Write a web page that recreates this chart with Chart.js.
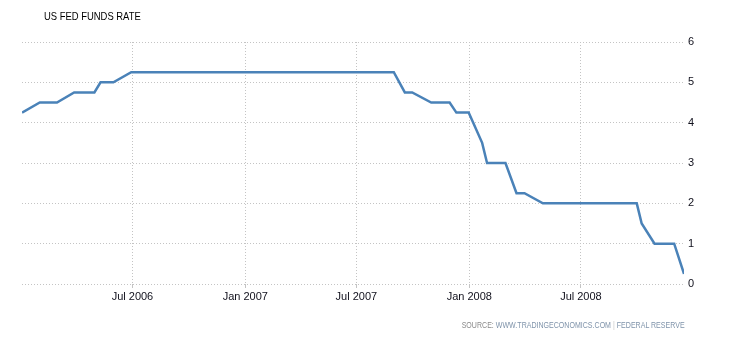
<!DOCTYPE html>
<html>
<head>
<meta charset="utf-8">
<script src="https://cdn.jsdelivr.net/npm/chart.js@4"></script>
<style>
  body { margin: 0; background: #fff; }
  #wrap { position: relative; width: 730px; height: 340px; }
  #title { position: absolute; left: 44px; top: 10px; font: 11.5px "Liberation Sans", Arial, sans-serif; color: #000; transform: scaleX(0.82); transform-origin: left top; white-space: nowrap; }
  #source { position: absolute; right: 45px; top: 320px; font: 8.5px "Liberation Sans", Arial, sans-serif; color: #8a8a8a; transform: scaleX(0.83); transform-origin: right top; white-space: nowrap; }
  #source .u { color: #7f93aa; }
  #source .s { color: #c8c8c8; }
</style>
</head>
<body>
<div id="wrap">
  <canvas id="rateChart" width="730" height="340"></canvas>
  <div id="title">US FED FUNDS RATE</div>
  <div id="source">SOURCE: <span class="u">WWW.TRADINGECONOMICS.COM</span> <span class="s">|</span> <span class="u">FEDERAL RESERVE</span></div>
</div>
<script>
// observation dates (month ends + fomc decisions) and rate in %
const dates = [
  "2006-01-02", "2006-01-31", "2006-02-28", "2006-03-28", "2006-04-30",
  "2006-05-10", "2006-05-31", "2006-06-29", "2006-07-31", "2006-08-31",
  "2006-09-30", "2006-10-31", "2006-11-30", "2006-12-31", "2007-01-31",
  "2007-02-28", "2007-03-31", "2007-04-30", "2007-05-31", "2007-06-30",
  "2007-07-31", "2007-08-31", "2007-09-18", "2007-09-30", "2007-10-31",
  "2007-11-30", "2007-12-11", "2007-12-31", "2008-01-22", "2008-01-30",
  "2008-02-29", "2008-03-18", "2008-03-31", "2008-04-30", "2008-05-31",
  "2008-06-30", "2008-07-31", "2008-08-31", "2008-09-30", "2008-10-08",
  "2008-10-29", "2008-11-30", "2008-12-16"
];
const rates = [
  4.25, 4.5, 4.5, 4.75, 4.75,
  5, 5, 5.25, 5.25, 5.25,
  5.25, 5.25, 5.25, 5.25, 5.25,
  5.25, 5.25, 5.25, 5.25, 5.25,
  5.25, 5.25, 4.75, 4.75, 4.5,
  4.5, 4.25, 4.25, 3.5, 3,
  3, 2.25, 2.25, 2, 2,
  2, 2, 2, 2, 1.5,
  1, 1, 0.25
];
const tickDates = ["2006-07-01", "2007-01-01", "2007-07-01", "2008-01-01", "2008-07-01"];
const tickLabels = ["Jul 2006", "Jan 2007", "Jul 2007", "Jan 2008", "Jul 2008"];
const yTicks = [0, 1, 2, 3, 4, 5, 6];

const toDay = (s) => Date.parse(s) / 86400000;
const points = dates.map((d, i) => ({ x: toDay(d), y: rates[i] }));
const tickDays = tickDates.map(toDay);

const tickFont = { family: "'Liberation Sans', Arial, sans-serif", size: 11 };
const gridColor = "#c4c4c4";

new Chart(document.getElementById("rateChart"), {
  type: "line",
  data: {
    datasets: [{
      data: points,
      borderColor: "#4a82b8",
      borderWidth: 2.5,
      pointRadius: 0,
      tension: 0,
      fill: false
    }]
  },
  options: {
    responsive: false,
    animation: false,
    layout: { padding: { left: 22, top: 42, right: 0, bottom: 0 } },
    plugins: { legend: { display: false }, tooltip: { enabled: false } },
    scales: {
      x: {
        type: "linear",
        min: points[0].x,
        max: points[points.length - 1].x,
        afterBuildTicks: (scale) => { scale.ticks = tickDays.map((v) => ({ value: v })); },
        afterFit: (scale) => { scale.height = 56; },
        ticks: {
          autoSkip: false,
          maxRotation: 0,
          padding: 2,
          color: "#10101c",
          font: tickFont,
          callback: (v) => tickLabels[tickDays.indexOf(v)]
        },
        grid: { color: gridColor, tickLength: 4 },
        border: { display: false, dash: [1, 2] }
      },
      y: {
        position: "right",
        min: 0,
        max: 6,
        afterBuildTicks: (scale) => { scale.ticks = yTicks.map((v) => ({ value: v })); },
        afterFit: (scale) => { scale.width = 46; },
        ticks: { color: "#10101c", font: tickFont, padding: 4 },
        grid: { color: gridColor, drawTicks: false },
        border: { display: false, dash: [1, 2] }
      }
    }
  }
});
</script>
</body>
</html>
